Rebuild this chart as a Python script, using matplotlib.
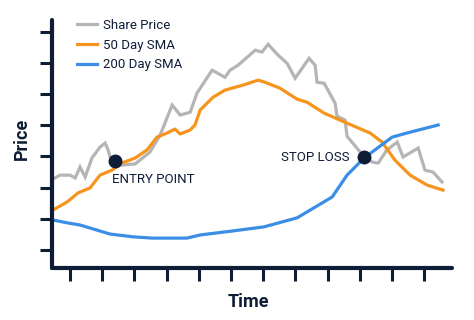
import matplotlib
matplotlib.use('Agg')
import matplotlib.pyplot as plt

# данные (условные единицы: время и цена)
price_t = [0.53, 0.69, 1.0, 1.16, 1.31, 1.47, 1.68, 1.93, 2.09, 2.18, 2.30, 2.55, 3.02,
           3.48, 3.80, 4.17, 4.42, 4.73, 4.94, 5.41, 5.81, 5.97, 6.22, 6.75, 6.96, 7.15,
           7.46, 7.74, 7.99, 8.42, 8.61, 8.67, 8.89, 9.23, 9.29, 9.54, 9.60, 10.01, 10.38,
           10.57, 10.84, 11.16, 11.34, 11.81, 12.02, 12.27, 12.55]
price_v = [3.31, 3.40, 3.40, 3.31, 3.66, 3.34, 3.95, 4.30, 4.43, 4.21, 3.79, 3.72, 3.76,
           4.14, 4.69, 5.65, 5.33, 5.42, 6.03, 6.77, 6.54, 6.77, 6.93, 7.41, 7.35, 7.60,
           7.25, 6.99, 6.51, 7.15, 6.93, 6.38, 6.35, 5.71, 5.29, 5.17, 4.65, 4.14, 3.82,
           3.79, 4.21, 4.46, 3.98, 4.27, 3.56, 3.50, 3.18]

sma50_t = [0.47, 0.91, 1.25, 1.62, 1.93, 2.30, 2.61, 3.02, 3.39, 3.70, 4.01, 4.26, 4.42,
           4.73, 4.88, 5.04, 5.44, 5.81, 6.37, 6.84, 7.06, 7.52, 8.05, 8.36, 8.89, 9.60,
           10.32, 10.69, 11.09, 11.56, 12.09, 12.58]
sma50_v = [2.28, 2.54, 2.83, 2.99, 3.40, 3.56, 3.79, 3.95, 4.21, 4.62, 4.75, 4.88, 4.72,
           4.85, 5.01, 5.49, 5.90, 6.13, 6.29, 6.45, 6.38, 6.19, 5.84, 5.74, 5.39, 5.07,
           4.75, 4.46, 3.88, 3.40, 3.08, 2.92]

sma200_t = [0.47, 0.91, 1.31, 2.24, 2.96, 3.55, 4.63, 5.04, 6.06, 7.02, 8.05, 9.14, 9.60,
            10.13, 11.00, 11.56, 12.43]
sma200_v = [1.96, 1.87, 1.80, 1.51, 1.42, 1.38, 1.38, 1.48, 1.61, 1.74, 2.03, 2.70, 3.40,
            3.95, 4.62, 4.78, 5.01]

entry_point = (2.40, 3.85)
stop_loss = (10.13, 3.98)

x_ticks = list(range(1, 13))
y_ticks = list(range(1, 9))

navy = '#0e1c36'
gray = '#b5b5b5'
orange = '#f7941d'
blue = '#3a8ee6'

plt.rcParams['font.family'] = ['Roboto', 'DejaVu Sans']

fig = plt.figure(figsize=(4.74, 3.2), dpi=100)
ax = fig.add_axes([52 / 474, 1 - 268 / 320, 400 / 474, 248 / 320])

ax.plot(price_t, price_v, color=gray, lw=2.3, label='Share Price', solid_joinstyle='miter')
ax.plot(sma50_t, sma50_v, color=orange, lw=2.3, label='50 Day SMA')
ax.plot(sma200_t, sma200_v, color=blue, lw=2.3, label='200 Day SMA')

ax.plot(*entry_point, 'o', color=navy, ms=9, zorder=5)
ax.plot(*stop_loss, 'o', color=navy, ms=9, zorder=5)
ax.text(entry_point[0] - 0.1, entry_point[1] - 0.58, 'ENTRY POINT', fontsize=9.5,
        color=navy, va='center', ha='left')
ax.text(stop_loss[0] - 0.45, stop_loss[1], 'STOP LOSS', fontsize=9.5,
        color=navy, va='center', ha='right')

ax.set_xlim(0.44, 12.86)
ax.set_ylim(0.42, 8.38)
ax.set_xticks(x_ticks)
ax.set_yticks(y_ticks)
ax.set_xticklabels([])
ax.set_yticklabels([])
ax.tick_params(axis='both', direction='out', length=9, width=2.2, color=navy)

for side in ['top', 'right']:
    ax.spines[side].set_visible(False)
for side in ['left', 'bottom']:
    ax.spines[side].set_color(navy)
    ax.spines[side].set_linewidth(3)
    ax.spines[side].set_capstyle('round')

fig.text(22 / 474, 1 - 139 / 320, 'Price', rotation=90, fontsize=13, fontweight='bold',
         color=navy, ha='center', va='center')
fig.text(248 / 474, 1 - 302 / 320, 'Time', fontsize=13, fontweight='bold',
         color=navy, ha='center', va='center')

ax.legend(loc='upper left', bbox_to_anchor=(77 / 474, 1 - 19 / 320),
          bbox_transform=fig.transFigure, frameon=False, fontsize=9.5,
          handlelength=1.5, handletextpad=0.5, labelspacing=0.5,
          borderpad=0, borderaxespad=0, labelcolor=navy)

fig.savefig('out.png', dpi=100)
